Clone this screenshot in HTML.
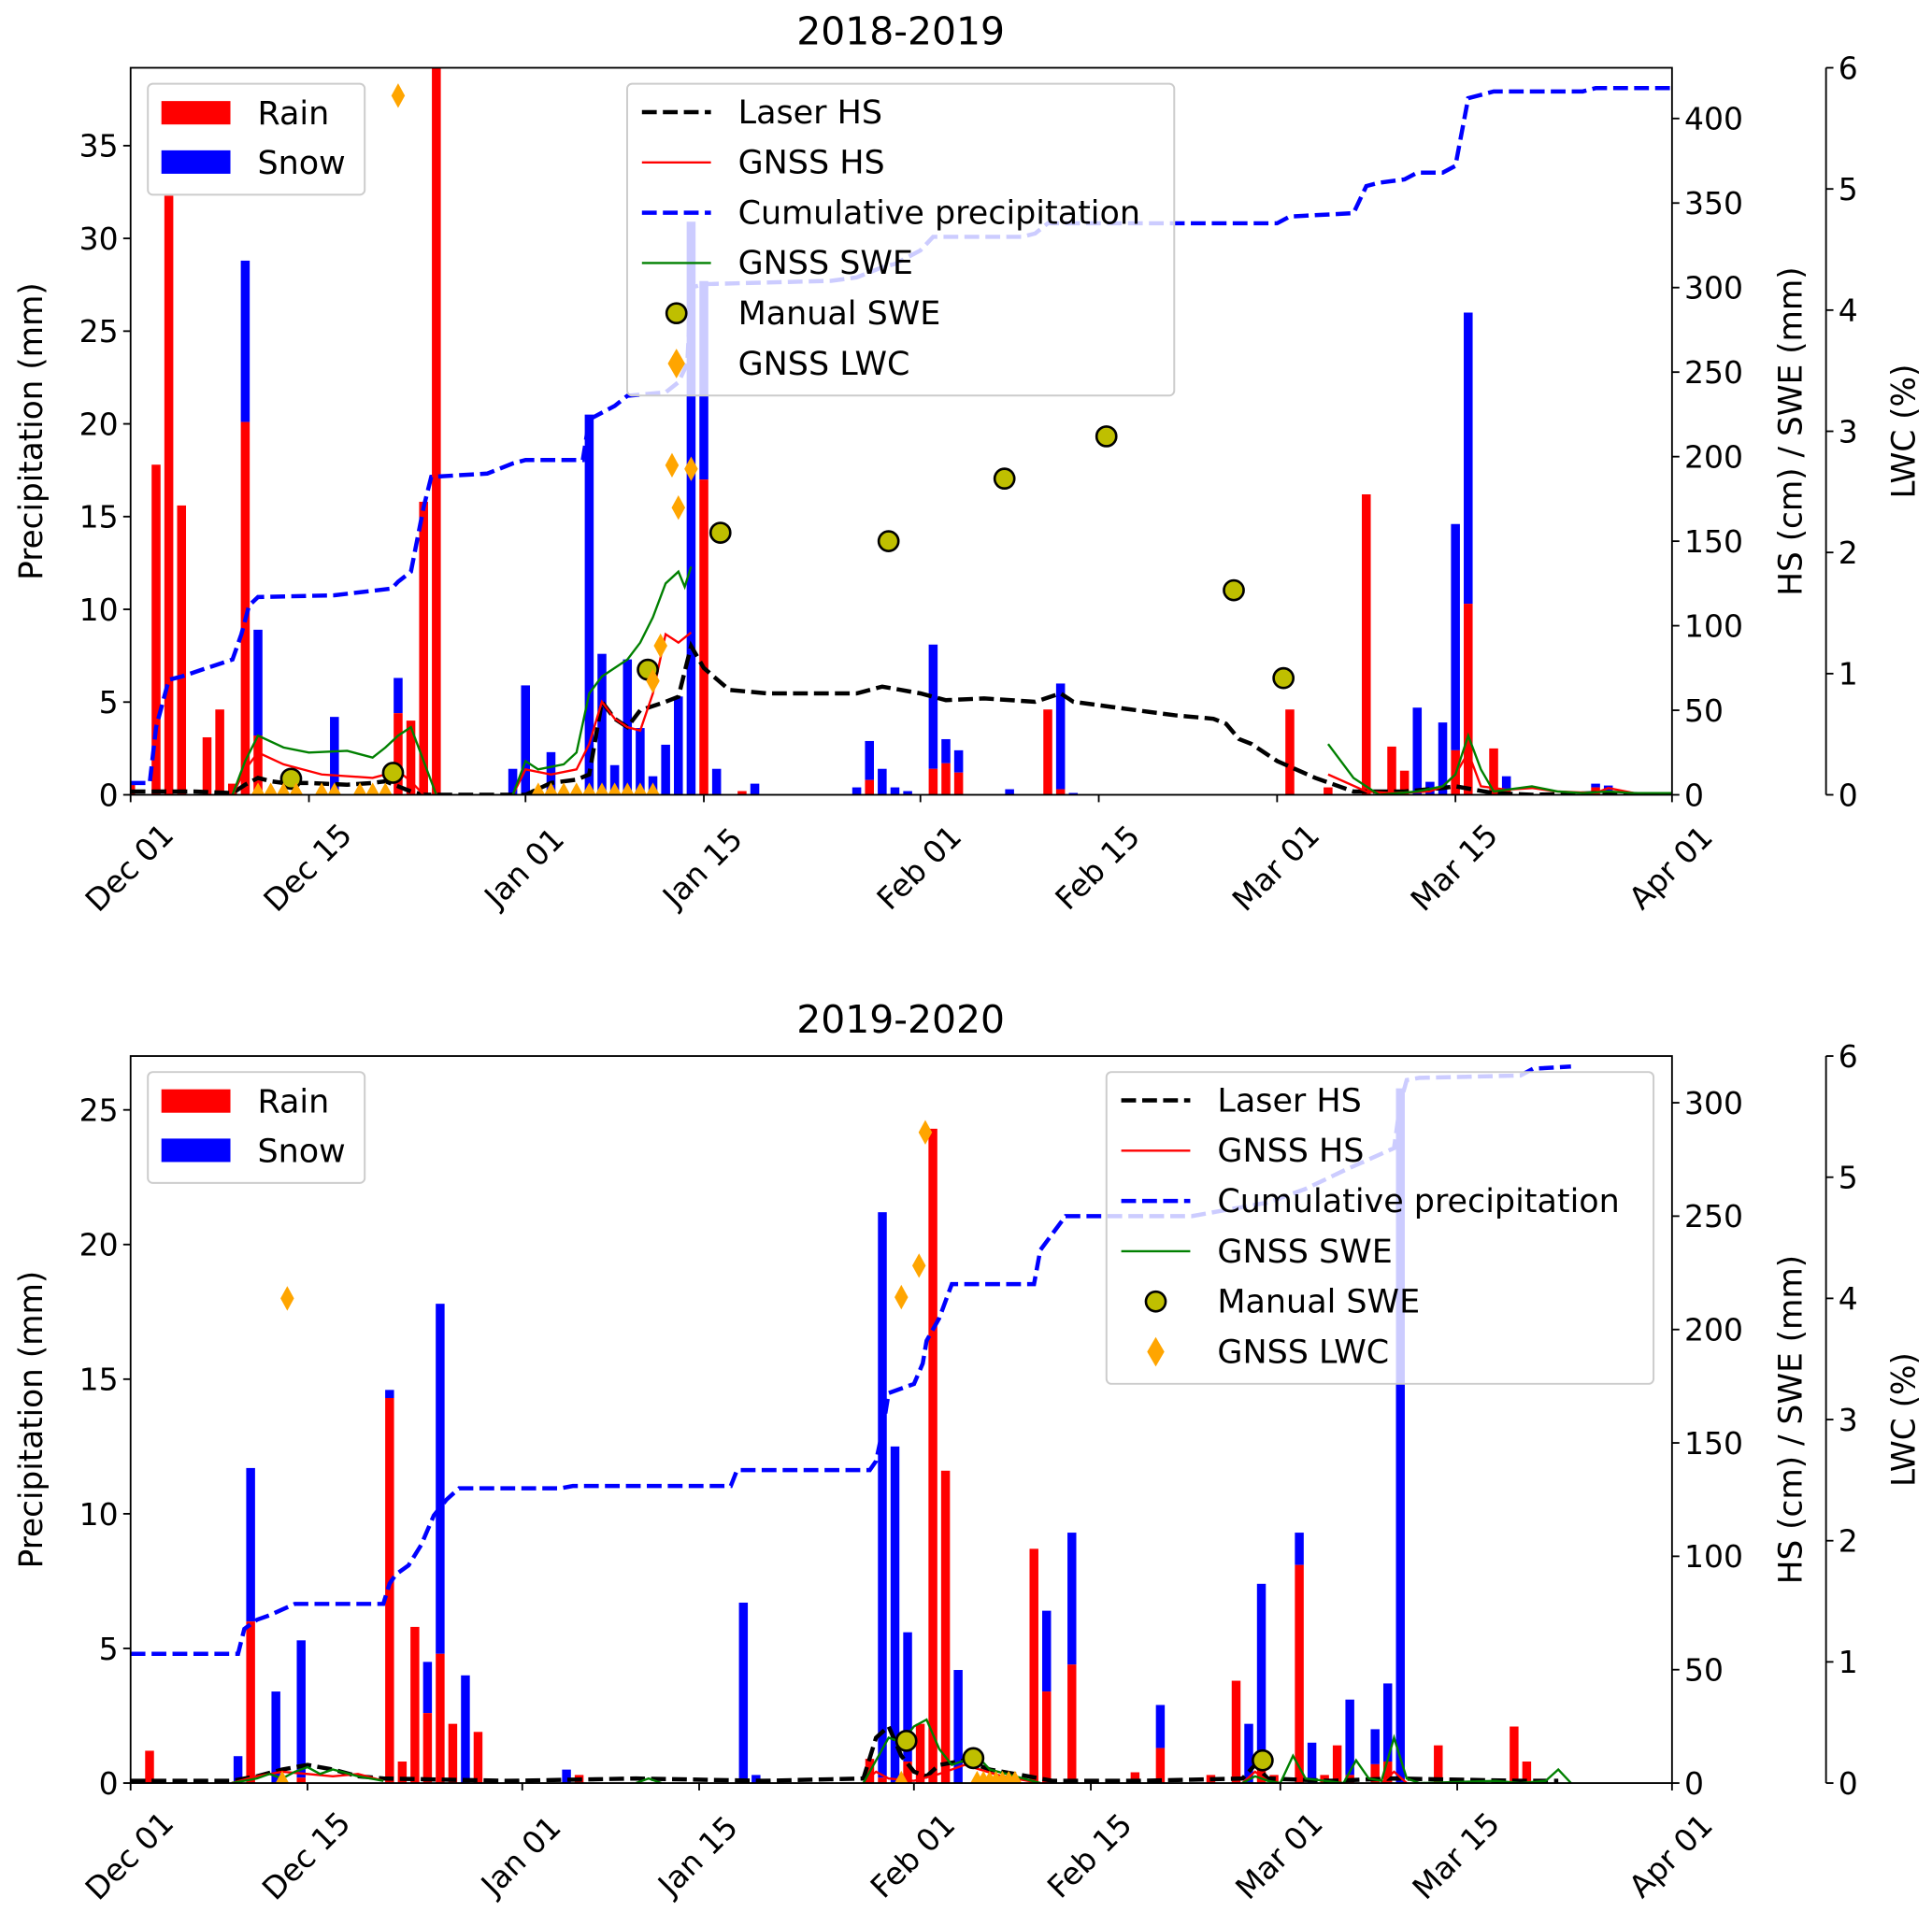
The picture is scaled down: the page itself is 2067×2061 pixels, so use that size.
<!DOCTYPE html>
<html><head><meta charset="utf-8"><style>
html,body{margin:0;padding:0;background:#fff;}
svg{display:block;font-family:"DejaVu Sans","Liberation Sans",sans-serif;}
</style></head><body>
<svg id="fig" width="2067" height="2061" viewBox="0 0 1568 1563" preserveAspectRatio="none" xmlns="http://www.w3.org/2000/svg"></svg>
<script>
// ---------- Panel 1 (2018-2019) data ----------
const p1BarDays = [0,2,3,4,6,7,8,9,10,16,21,22,23,24,30,31,33,36,37,38,39,40,41,42,43,44,45,46,48,49,57,58,59,60,61,63,64,65,69,72,73,74,91,94,97,99,100,101,102,103,104,105,107,108,115,116];
const p1Rain = [0.6,17.8,32.3,15.6,3.1,4.6,0.6,20.1,3.2,0,4.4,4.0,15.8,42,0,0,0,0,0,0,0,0,0,0,0,0,17,0,0.2,0,0,0.8,0,0,0,1.4,1.7,1.2,0,4.6,0.3,0,4.6,0.4,16.2,2.6,1.3,0,0,0,2.4,10.3,2.5,0.3,0.4,0];
const p1Snow = [0,0,0,0,0,0,0,8.7,5.7,4.2,1.9,0,0,0,1.4,5.9,2.3,20.5,7.6,1.6,7.3,3.6,1.0,2.7,5.3,30.9,10.7,1.4,0,0.6,0.4,2.1,1.4,0.4,0.2,6.7,1.3,1.2,0.3,0,5.7,0.1,0,0,0,0,0,4.7,0.7,3.9,12.2,15.7,0,0.7,0.2,0.5];
const p1CumDays = [0,1.5,2,3,4,6,8,8.7,9.3,10,16,20.5,21,22,23,23.6,28,30,31,35.5,36,37,38,39,42,43,43.7,44,45,55,57,59,60,61,62,63,70,71,72,90,91,96,97,98,100,101,103,104,105,106,107,114,115,121];
const p1CumVals = [7,7,40,68,70,75,80,95,112,117,118,122,126,132,170,188,190,196,198,198,222,226,230,236,238,244,255,300,302,304,306,312,314,318,322,330,330,332,338,338,342,344,360,362,364,368,368,372,412,414,416,416,418,418];
const p1LaserDays = [0,5,8,9,10,11,12,14,17,19,20,21,22,23,30,31,33,35,36,37,38,39,40,42,43,44,45,47,50,57,59,62,64,67,71,73,74,77,82,85,86,87,88,90,93,96,100,103,104,107,110,115,121];
const p1LaserVals = [2,2,1,6,10,8,7,7,6,7,8,5,2,0,0,0,7,9,12,55,45,40,50,55,58,88,75,62,60,60,64,60,56,57,55,60,55,52,47,45,42,33,30,20,10,2,2,4,5,1,0,1,0];
const p1GHSDays = [8,9,10,12,15,19,21,22,23,null,30,31,33,35,36,37,38,39,40,41,42,43,44,null,94,97,99,102,103,104,105,106,108,110,112,115,116,118,121];
const p1GHSVals = [0,15,25,18,12,10,14,8,0,null,0,15,12,15,30,55,45,40,38,60,95,90,96,null,12,2,1,2,5,12,25,5,3,4,2,1,4,1,1];
const p1SWEDays = [8,9,10,12,14,17,19,20,21,22,23,24,null,30,31,32,34,35,36,37,39,40,41,42,43,43.5,44,null,94,96,98,101,103,104,105,106,107,110,112,114,116,118,121];
const p1SWEVals = [0,20,35,28,25,26,22,28,35,40,20,0,null,0,20,15,18,25,60,70,80,90,105,125,132,123,135,null,30,10,0,2,5,12,35,15,2,5,2,1,2,1,1];
const p1ManDays = [12.6,20.6,40.6,46.3,59.5,68.6,76.6,86.6,90.5];
const p1ManVals = [9.5,13,74,155,150,187,212,121,69];
const p1LwcDays = [21,42.5,44,43,41.6,41,10,11,12,13,15,16,18,19,20,32,33,34,35,36,37,38,39,40,41];
const p1LwcVals = [5.77,2.72,2.69,2.37,1.23,0.94,0,0,0,0,0,0,0,0,0,0,0,0,0,0,0,0,0,0,0];
const p1Ticks = ["Dec 01","Dec 15","Jan 01","Jan 15","Feb 01","Feb 15","Mar 01","Mar 15","Apr 01"];
const p1TickDays = [0,14,31,45,62,76,90,104,121];

// ---------- Panel 2 (2019-2020) data ----------
const p2BarDays = [1,8,9,11,13,20,21,22,23,24,25,26,27,34,35,48,49,58,59,60,61,62,63,64,65,71,72,74,79,81,85,87,88,89,90,92,93,94,95,96,98,99,100,103,109,110];
const p2Rain = [1.2,0,6.0,0,0.2,14.3,0.8,5.8,2.6,4.8,2.2,0,1.9,0,0.3,0,0,0.9,0.2,0,0.8,2.2,24.3,11.6,0,8.7,3.4,4.4,0.4,1.3,0.3,3.8,0,0.9,0.3,8.1,0,0.3,1.4,0.3,0.7,0.8,0,1.4,2.1,0.8];
const p2Snow = [0,1.0,5.7,3.4,5.1,0.3,0,0,1.9,13.0,0,4.0,0,0.5,0,6.7,0.3,0,21.0,12.5,4.8,0,0,0,4.2,0,3.0,4.9,0,1.6,0,0,2.2,6.5,0,1.2,1.5,0,0,2.8,1.3,2.9,25.8,0,0,0];
const p2CumDays = [0,8.5,9,10,11,13,20,20.5,21,22,23,24,25,26,34,35,47.5,48,58.5,59,59.5,60,62,62.7,63,64,65,71.5,72,74,84,86,90,93,96,100,100.5,101,102,110,111,114];
const p2CumVals = [57,57,68,72,74,79,79,88,92,96,105,118,125,130,130,131,131,138,138,142,155,172,176,185,195,205,220,220,235,250,250,252,256,262,270,280,300,310,311,312,315,316];
const p2LaserDays = [0,8,9,10,12,14,16,18,20,30,40,50,58,59,60,61,62,63,64,66,68,70,73,80,88,89,90,95,100,110,113];
const p2LaserVals = [1,1,2,3,6,8,6,3,2,1,2,1,2,20,25,12,5,3,8,10,6,4,1,1,2,8,2,1,2,1,1];
const p2GHSDays = [8,10,12,14,16,18,20,null,58,59,60,62,64,66,69,72,null,88,89,90,null,99,100,101];
const p2GHSVals = [0,3,5,4,3,4,1,null,0,5,2,1,4,8,3,0,null,0,5,1,null,0,5,0];
const p2SWEDays = [8,10,11,12,13,14,15,16,18,20,null,40,41,42,null,58,59,60,61,62,63,64,65,66,67,68,70,72,null,88,89,90,91,92,93,96,97,98,99,100,101,102,108,110,112,113,114];
const p2SWEVals = [0,2,4,2,5,7,4,6,3,1,null,0,2,0,null,0,10,20,18,25,28,15,8,10,12,6,3,0,null,0,3,1,0,12,2,0,10,2,1,20,2,0,1,0,1,6,0];
const p2ManDays = [61.4,66.7,89.6];
const p2ManVals = [18.6,11,10];
const p2LwcDays = [12.4,62.9,62.4,61,12,61,67,67.5,68,68.5,69,69.5,70];
const p2LwcVals = [4.0,5.37,4.27,4.01,0,0,0,0,0,0,0,0,0];
const p2Ticks = ["Dec 01","Dec 15","Jan 01","Jan 15","Feb 01","Feb 15","Mar 01","Mar 15","Apr 01"];
const p2TickDays = [0,14,31,45,62,76,91,105,122];

const NS = "http://www.w3.org/2000/svg";
const svg = document.getElementById('fig');
function mk(tag, attrs, parent, txt){
  const e = document.createElementNS(NS, tag);
  for (const k in attrs) e.setAttribute(k, attrs[k]);
  if (txt !== undefined) e.textContent = txt;
  (parent || svg).appendChild(e);
  return e;
}
const FT=25, FL=26.5, FA=26, FTI=31;

function panel(P){
  const g = mk('g', {});
  
  
  const L=106, R=1357, T=P.top, B=P.top+590;
  const X = d => L + d*(R-L)/P.ndays;
  const Y = v => B - v*(B-T)/P.pmax;
  const Y2 = v => B - v*(B-T)/P.hmax;
  const Y3 = v => B - v*(B-T)/6;
  const clipId = 'clip'+P.top;
  const cp = mk('clipPath', {id: clipId}, g);
  mk('rect', {x:L, y:T-15, width:R-L, height:B-T+15}, cp);
  const plot = mk('g', {'clip-path':'url(#'+clipId+')'}, g);
  const bw = 0.7*(R-L)/P.ndays;
  P.barDays.forEach((d,i)=>{
    const xc = X(d + P.barOff);
    const r = P.rain[i], s = P.snow[i];
    if (s>0){
      const b = mk('rect', {x:xc-bw/2, y:Math.max(T,Y(r+s)), width:bw, height:Y(r)-Math.max(T,Y(r+s)), fill:'#0000ff'}, plot);
      
      
    }
    if (r>0){
      const b = mk('rect', {x:xc-bw/2, y:Math.max(T,Y(r)), width:bw, height:B-Math.max(T,Y(r)), fill:'#ff0000'}, plot);
      
      
    }
  });
  function line(days, vals, attrs, name){
    let segs=[], cur=[];
    days.forEach((d,i)=>{ if(d===null){ if(cur.length) segs.push(cur); cur=[]; } else cur.push(X(d).toFixed(1)+','+Y2(vals[i]).toFixed(1)); });
    if(cur.length) segs.push(cur);
    segs.forEach(s=>{
      const e = mk('polyline', Object.assign({points:s.join(' '), fill:'none'}, attrs), plot);
      
      
    });
  }
  line(P.cumDays, P.cumVals, {stroke:'#0000ff','stroke-width':3.4,'stroke-dasharray':'12 5'}, 'cumulative-precipitation-line');
  line(P.laserDays, P.laserVals, {stroke:'#000','stroke-width':3.4,'stroke-dasharray':'12 5'}, 'laser-hs-line');
  line(P.ghsDays, P.ghsVals, {stroke:'#ff0000','stroke-width':1.8}, 'gnss-hs-line');
  line(P.sweDays, P.sweVals, {stroke:'#008000','stroke-width':1.8}, 'gnss-swe-line');
  P.manDays.forEach((d,i)=>{
    const c = mk('circle', {cx:X(d), cy:Y2(P.manVals[i]), r:8, fill:'#bfbf00', stroke:'#000','stroke-width':2}, g);
    
    
  });
  const cp2 = mk('clipPath', {id: clipId+'b'}, g);
  mk('rect', {x:L, y:T-20, width:R-L, height:B-T+20}, cp2);
  const lw = mk('g', {'clip-path':'url(#'+clipId+'b)'}, g);
  P.lwcDays.forEach((d,i)=>{
    const x=X(d), y=Y3(P.lwcVals[i]);
    const p = mk('polygon', {points:`${x},${y-10} ${x+5.5},${y} ${x},${y+10} ${x-5.5},${y}`, fill:'#ffa500'}, lw);
    
    
  });
  mk('rect', {x:L, y:T, width:R-L, height:B-T, fill:'none', stroke:'#000','stroke-width':1.4}, g);
  mk('line', {x1:1482, y1:T, x2:1482, y2:B, stroke:'#000','stroke-width':1.4}, g);
  P.tickDays.forEach((d,i)=>{
    const x=X(d);
    mk('line',{x1:x,y1:B,x2:x,y2:B+6,stroke:'#000','stroke-width':1.4},g);
    const t = mk('text',{x:0,y:0,'font-size':FT,'text-anchor':'middle','dominant-baseline':'middle',transform:`translate(${x},${B+60}) rotate(-45)`},g,P.ticks[i]);
    
    
  });
  for(let v=0; v<=P.pmax; v+=5){
    const y=Y(v);
    mk('line',{x1:L-6,y1:y,x2:L,y2:y,stroke:'#000','stroke-width':1.4},g);
    mk('text',{x:L-10,y:y+9,'font-size':FT,'text-anchor':'end'},g,String(v));
  }
  for(let v=0; v<=P.hmax; v+=50){
    const y=Y2(v);
    mk('line',{x1:R,y1:y,x2:R+6,y2:y,stroke:'#000','stroke-width':1.4},g);
    mk('text',{x:R+10,y:y+9,'font-size':FT},g,String(v));
  }
  for(let v=0; v<=6; v++){
    const y=Y3(v);
    mk('line',{x1:1482,y1:y,x2:1488,y2:y,stroke:'#000','stroke-width':1.4},g);
    mk('text',{x:1492,y:y+9,'font-size':FT},g,String(v));
  }
  const cy=(T+B)/2;
  let t = mk('text',{x:0,y:0,'font-size':FA,'text-anchor':'middle',transform:`translate(34,${cy}) rotate(-90)`},g,'Precipitation (mm)');
   
  t = mk('text',{x:0,y:0,'font-size':FA,'text-anchor':'middle',transform:`translate(1462,${cy}) rotate(-90)`},g,'HS (cm) / SWE (mm)');
   
  t = mk('text',{x:0,y:0,'font-size':FA,'text-anchor':'middle',transform:`translate(1554,${cy}) rotate(-90)`},g,'LWC (%)');
   
  t = mk('text',{x:731,y:T-19,'font-size':FTI,'text-anchor':'middle'},g,P.title);
   
  const lg1 = mk('g',{},g);
   
  mk('rect',{x:120,y:T+13,width:176,height:90,rx:4,fill:'#fff','fill-opacity':0.8,stroke:'#ccc','stroke-width':1.5},lg1);
  mk('rect',{x:131,y:T+27,width:56,height:19,fill:'#ff0000'},lg1);
  mk('rect',{x:131,y:T+67,width:56,height:19,fill:'#0000ff'},lg1);
  mk('text',{x:209,y:T+46,'font-size':FL},lg1,'Rain');
  mk('text',{x:209,y:T+86,'font-size':FL},lg1,'Snow');
  const lx=P.leg2x, ly=T+13;
  const lg2 = mk('g',{},g);
   
  mk('rect',{x:lx,y:ly,width:444,height:253,rx:4,fill:'#fff','fill-opacity':0.8,stroke:'#ccc','stroke-width':1.5},lg2);
  const names=['Laser HS','GNSS HS','Cumulative precipitation','GNSS SWE','Manual SWE','GNSS LWC'];
  names.forEach((n,i)=>{
    const yy=ly+23+i*40.8;
    const sx=lx+12;
    if(i===0) mk('line',{x1:sx,y1:yy,x2:sx+56,y2:yy,stroke:'#000','stroke-width':3.4,'stroke-dasharray':'12 5'},lg2);
    if(i===1) mk('line',{x1:sx,y1:yy,x2:sx+56,y2:yy,stroke:'#ff0000','stroke-width':1.8},lg2);
    if(i===2) mk('line',{x1:sx,y1:yy,x2:sx+56,y2:yy,stroke:'#0000ff','stroke-width':3.4,'stroke-dasharray':'12 5'},lg2);
    if(i===3) mk('line',{x1:sx,y1:yy,x2:sx+56,y2:yy,stroke:'#008000','stroke-width':1.8},lg2);
    if(i===4) mk('circle',{cx:sx+28,cy:yy,r:8,fill:'#bfbf00',stroke:'#000','stroke-width':2},lg2);
    if(i===5) mk('polygon',{points:`${sx+28},${yy-12} ${sx+35},${yy} ${sx+28},${yy+12} ${sx+21},${yy}`,fill:'#ffa500'},lg2);
    mk('text',{x:lx+90,y:yy+9,'font-size':FL},lg2,n);
  });
}

panel({name:'panel-2018-2019', title:'2018-2019', top:55, ndays:121, pmax:39.2, hmax:430, barOff:0, leg2x:509,
  barDays:p1BarDays, rain:p1Rain, snow:p1Snow, cumDays:p1CumDays, cumVals:p1CumVals,
  laserDays:p1LaserDays, laserVals:p1LaserVals, ghsDays:p1GHSDays, ghsVals:p1GHSVals,
  sweDays:p1SWEDays, sweVals:p1SWEVals, manDays:p1ManDays, manVals:p1ManVals,
  lwcDays:p1LwcDays, lwcVals:p1LwcVals, ticks:p1Ticks, tickDays:p1TickDays});
panel({name:'panel-2019-2020', title:'2019-2020', top:857, ndays:122, pmax:27, hmax:320.6, barOff:0.5, leg2x:898,
  barDays:p2BarDays, rain:p2Rain, snow:p2Snow, cumDays:p2CumDays, cumVals:p2CumVals,
  laserDays:p2LaserDays, laserVals:p2LaserVals, ghsDays:p2GHSDays, ghsVals:p2GHSVals,
  sweDays:p2SWEDays, sweVals:p2SWEVals, manDays:p2ManDays, manVals:p2ManVals,
  lwcDays:p2LwcDays, lwcVals:p2LwcVals, ticks:p2Ticks, tickDays:p2TickDays});
</script>
</body></html>
